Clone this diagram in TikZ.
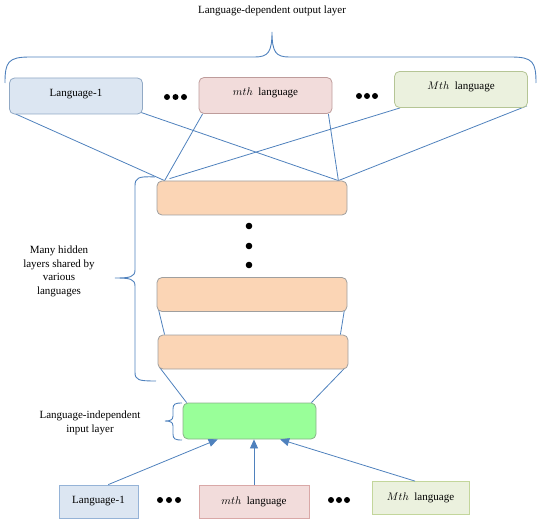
\documentclass[tikz,border=0pt]{standalone}
\usepackage{fontspec}
\setmainfont{Liberation Serif}
\usepackage{xcolor}
\usetikzlibrary{arrows.meta,calc,backgrounds}

\definecolor{wireblue}{HTML}{4F81BD}
\definecolor{langAfill}{HTML}{DCE6F2}
\definecolor{langAline}{HTML}{95B3D7}
\definecolor{langMfill}{HTML}{F2DCDB}
\definecolor{langMline}{HTML}{D9A8A7}
\definecolor{langLfill}{HTML}{EBF1DE}
\definecolor{langLline}{HTML}{C3D69B}
\definecolor{hidfill}{HTML}{FBD5B5}
\definecolor{infill}{HTML}{99FF99}

\begin{document}
\begin{tikzpicture}[x=1pt, y=-1pt,
    every node/.style={font=\fontsize{11}{13.5}\selectfont},
    outbox/.style={draw, line width=0.8pt, rounded corners=5pt, inner sep=0pt,
        minimum width=133pt, minimum height=36pt, text height=7.5pt, text depth=6.5pt},
    inbox/.style={draw, line width=0.8pt, inner sep=0pt, minimum height=33pt},
    hidbox/.style={draw=gray!75, fill=hidfill, line width=0.8pt, rounded corners=5pt,
        minimum width=190pt, minimum height=34pt},
    wire/.style={draw=wireblue, line width=0.8pt},
    brace/.style={draw=wireblue, line width=0.9pt}]

\useasboundingbox (0,0) rectangle (542,519);

% Title and output brace
\node (title) at (272,11) {Language-dependent output layer};
\draw[brace] (5,83) .. controls (5,62) and (8,57) .. (30,57) -- (255,57)
    .. controls (268,57) and (272,52) .. (272,32)
    .. controls (272,52) and (276,57) .. (289,57) -- (511,57)
    .. controls (533,57) and (536,62) .. (536,83);

% Output layer (language-dependent)
\node[outbox, fill=langAfill, draw=langAline!80!gray] (outA) at (76,96) {Language-1};
\node[outbox, fill=langMfill, draw=langMline!70!gray] (outM) at (265.5,95.5) {$mth$\enspace language};
\node[outbox, fill=langLfill, draw=langLline!80!gray] (outL) at (461,89.5) {$Mth$\enspace language};
\foreach \x in {167,175.5,184} \fill (\x,97) circle (3);
\foreach \x in {359,367,375} \fill (\x,96) circle (3);

% Shared hidden layers
\node[hidbox] (hidA) at (252,198) {};
\node[hidbox] (hidB) at (252,294.5) {};
\node[hidbox] (hidC) at (253,352) {};
\foreach \y in {226,246,265} \fill (249,\y) circle (3.3);

\draw[brace] (155,177) .. controls (138,176) and (135,178) .. (135,186) -- (135,270)
    .. controls (135,277) and (130,278) .. (115,278)
    .. controls (130,278) and (135,279) .. (135,286) -- (135,372)
    .. controls (135,380) and (138,381) .. (156,381);
\node[align=center] (hidtxt) at (59,271.5) {Many hidden\\layers shared by\\various\\languages};

% Input layer (language-independent)
\node[draw=gray!60!infill, fill=infill, line width=0.8pt, rounded corners=5pt,
    minimum width=133pt, minimum height=36pt] (inL) at (249.5,421) {};
\draw[brace] (182,403) .. controls (175,403) and (173,404) .. (173,409) -- (173,416)
    .. controls (173,420) and (170,421) .. (165,421)
    .. controls (170,421) and (173,422) .. (173,426) -- (173,434)
    .. controls (173,439) and (175,440) .. (182,440);
\node[align=center] (intxt) at (90,423) {Language-independent\\input layer};

% Input languages
\node[inbox, fill=langAfill, draw=langAline, minimum width=79pt] (inA) at (98.5,501.5) {Language-1};
\node[inbox, fill=langMfill, draw=langMline, minimum width=110pt] (inM) at (254,501.5) {$mth$\enspace language};
\node[inbox, fill=langLfill, draw=langLline, minimum width=97pt] (inMM) at (420.5,498) {$Mth$\enspace language};
\foreach \x in {160,169,178} \fill (\x,500) circle (3);
\foreach \x in {331,339,347} \fill (\x,500) circle (3);

% Connections
\begin{scope}[on background layer]
\coordinate (pA) at ($(hidA.north west)+(8,0)$);
\coordinate (pB) at ($(hidA.north west)+(13,-2)$);
\coordinate (pC) at ($(hidA.north east)+(-9,0)$);
\draw[wire] ($(outA.south west)+(3,-2)$) -- (pA);
\draw[wire] ($(outM.south west)+(4,0)$) -- (pA);
\draw[wire] ($(outL.south west)+(6,0)$) -- (pB);
\draw[wire] ($(outA.south east)+(-2,-2)$) -- (pC);
\draw[wire] ($(outM.south east)+(-4,0)$) -- (pC);
\draw[wire] ($(outL.south east)+(-1,-2)$) -- (pC);

\draw[wire] ($(hidB.south west)+(2,-2)$) -- ($(hidC.north west)+(7,0)$);
\draw[wire] ($(hidB.south east)+(-3,-2)$) -- ($(hidC.north east)+(-8,0)$);
\draw[wire] ($(hidC.south west)+(2,-2)$) -- ($(inL.north west)+(4,0)$);
\draw[wire] ($(hidC.south east)+(-3,-2)$) -- ($(inL.north east)+(-5,0)$);
\end{scope}

\draw[wire, -{Triangle[length=9pt,width=8pt]}] (inA.60) -- (inL.210);
\draw[wire, -{Triangle[length=9pt,width=8pt]}] (inM.north) -- (inM.north |- inL.south);
\draw[wire, -{Triangle[length=9pt,width=8pt]}] (inMM.108) -- (inL.329);

\end{tikzpicture}
\end{document}
